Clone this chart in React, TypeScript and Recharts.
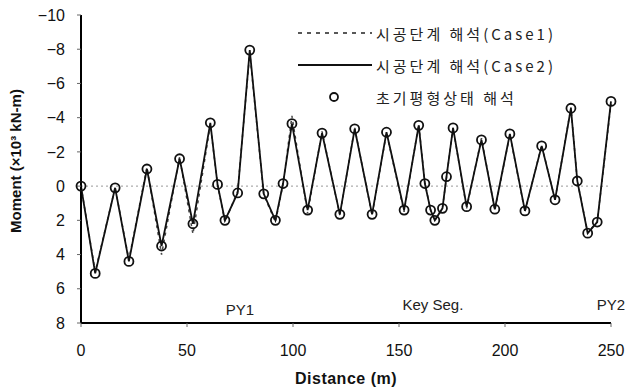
import { ComposedChart, Line, XAxis, YAxis, ReferenceLine } from 'recharts';

// positions of the section points along the bridge (m)
const distance = [
  0, 6.7, 16.1, 22.6, 31.1, 38.0, 46.5, 52.8, 61.0, 64.4, 67.9, 73.9, 79.6,
  86.2, 91.7, 95.3, 99.5, 106.9, 113.7, 122.1, 129.1, 137.3, 144.1, 152.4,
  159.3, 162.2, 164.9, 166.9, 170.5, 172.4, 175.5, 181.9, 188.9, 195.2, 202.3,
  209.4, 217.3, 223.6, 231.1, 234.1, 239.0, 243.5, 250,
];

// 초기평형상태 해석 (x10^3 kN-m)
const initialMoment = [
  0, 5.1, 0.1, 4.4, -1.0, 3.5, -1.6, 2.2, -3.7, -0.1, 2.0, 0.4, -7.95,
  0.45, 2.0, -0.15, -3.65, 1.4, -3.1, 1.65, -3.35, 1.65, -3.15, 1.4,
  -3.55, -0.15, 1.4, 2.0, 1.3, -0.55, -3.4, 1.2, -2.7, 1.35, -3.05,
  1.45, -2.35, 0.8, -4.55, -0.3, 2.75, 2.1, -4.95,
];

// 시공단계 해석 (Case1)
const case1Moment = [
  0, 5.0, 0.1, 4.3, -1.1, 4.0, -1.7, 2.8, -3.6, -0.1, 2.1, 0.3, -7.8,
  0.5, 2.1, -0.1, -4.1, 1.6, -3.2, 1.7, -3.4, 1.7, -3.1, 1.5,
  -3.6, -0.2, 1.4, 2.0, 1.3, -0.5, -3.4, 1.3, -2.8, 1.4, -3.0,
  1.5, -2.4, 0.8, -4.6, -0.3, 2.7, 2.1, -4.8,
];

// 시공단계 해석 (Case2)
const case2Moment = [
  0, 5.1, 0.1, 4.4, -1.0, 3.5, -1.6, 2.2, -3.7, -0.1, 2.0, 0.4, -7.95,
  0.45, 2.0, -0.15, -3.65, 1.4, -3.1, 1.65, -3.35, 1.65, -3.15, 1.4,
  -3.55, -0.15, 1.4, 2.0, 1.3, -0.55, -3.4, 1.2, -2.7, 1.35, -3.05,
  1.45, -2.35, 0.8, -4.55, -0.3, 2.75, 2.1, -4.95,
];

const xTicks = [0, 50, 100, 150, 200, 250];
const yTicks = [-10, -8, -6, -4, -2, 0, 2, 4, 6, 8];

const sectionMarks = [
  { x: 75, name: 'PY1', lift: 8 },
  { x: 166, name: 'Key Seg.', lift: 13 },
  { x: 250, name: 'PY2', lift: 13 },
];

const legendItems = [
  { label: '시공단계 해석(Case1)', kind: 'dash' },
  { label: '시공단계 해석(Case2)', kind: 'solid' },
  { label: '초기평형상태 해석', kind: 'dot' },
];

const data = distance.map((x, i) => ({
  x,
  c1: case1Moment[i],
  c2: case2Moment[i],
  init: initialMoment[i],
}));

const tickFont = { fontFamily: 'Liberation Sans, Arial, sans-serif', fontSize: 16, fill: '#111' };
const korFont = "'Noto Sans CJK KR', sans-serif";

function LegendBox() {
  return (
    <div style={{ position: 'absolute', left: 296, top: 17 }}>
      {legendItems.map((r) => (
        <div key={r.label} style={{ display: 'flex', alignItems: 'center', height: 32 }}>
          <svg width={80} height={12} style={{ display: 'block' }}>
            {r.kind === 'dash' && (
              <line x1={2} y1={6} x2={76} y2={6} stroke="#222" strokeWidth={1.6} strokeDasharray="4 5" />
            )}
            {r.kind === 'solid' && <line x1={2} y1={6} x2={76} y2={6} stroke="#111" strokeWidth={2} />}
            {r.kind === 'dot' && <circle cx={38} cy={6} r={4} fill="none" stroke="#111" strokeWidth={1.8} />}
          </svg>
          <span style={{ fontFamily: korFont, fontSize: 15, letterSpacing: 3, color: '#222', whiteSpace: 'nowrap' }}>
            {r.label}
          </span>
        </div>
      ))}
    </div>
  );
}

function markLabel(text: string, lift: number, masked: boolean) {
  return (props: any) => {
    const vb = props.viewBox;
    const cx = vb.x;
    const by = vb.y + vb.height - lift;
    return (
      <g>
        {masked && <rect x={cx - 15} y={by - 14} width={30} height={17} fill="#fff" />}
        <text
          x={cx}
          y={by}
          textAnchor="middle"
          style={{ fontFamily: tickFont.fontFamily, fontSize: 15, fill: '#222' }}
        >
          {text}
        </text>
      </g>
    );
  };
}

function YTitle(props: any) {
  const vb = props.viewBox;
  const cx = vb.x + 15;
  const cy = vb.y + vb.height / 2 - 8;
  return (
    <text
      x={cx}
      y={cy}
      transform={`rotate(-90 ${cx} ${cy})`}
      textAnchor="middle"
      dominantBaseline="central"
      style={{ fontFamily: tickFont.fontFamily, fontSize: 15, fontWeight: 'bold', fill: '#111' }}
    >
      Moment (×10³ kN-m)
    </text>
  );
}

export default function App() {
  return (
    <div style={{ position: 'absolute', left: 0, top: 0, width: 628, height: 391, background: '#fff' }}>
      <ComposedChart width={628} height={391} data={data} margin={{ top: 15, right: 17, left: 0, bottom: 0 }}>
        <XAxis
          xAxisId="top"
          orientation="top"
          type="number"
          dataKey="x"
          domain={[0, 250]}
          height={0}
          tick={false}
          tickLine={false}
          axisLine={{ stroke: '#000', strokeWidth: 2 }}
        />
        <XAxis
          type="number"
          dataKey="x"
          domain={[0, 250]}
          ticks={xTicks}
          height={68}
          tickSize={4}
          tickMargin={18}
          tick={tickFont}
          tickLine={{ stroke: '#666' }}
          axisLine={{ stroke: '#000', strokeWidth: 2 }}
          label={{
            value: 'Distance (m)',
            position: 'insideBottom',
            offset: 7,
            style: { fontFamily: tickFont.fontFamily, fontSize: 16, fontWeight: 'bold', fill: '#111', letterSpacing: 0.5 },
          }}
        />
        <YAxis
          reversed
          type="number"
          domain={[-10, 8]}
          ticks={yTicks}
          width={81}
          tickSize={4}
          tickMargin={12}
          tick={tickFont}
          tickLine={{ stroke: '#666' }}
          tickFormatter={(v: number) => String(v).replace('-', '\u2212')}
          axisLine={{ stroke: '#000', strokeWidth: 2 }}
          label={<YTitle />}
        />
        <YAxis
          yAxisId="right"
          orientation="right"
          reversed
          type="number"
          domain={[-10, 8]}
          width={0}
          tick={false}
          tickLine={false}
          axisLine={{ stroke: '#000', strokeWidth: 2 }}
        />
        <ReferenceLine y={0} stroke="#999" strokeDasharray="2 3" />
        <Line
          dataKey="c1"
          stroke="#444"
          strokeWidth={1.5}
          strokeDasharray="3 4"
          dot={false}
          isAnimationActive={false}
        />
        <Line dataKey="c2" stroke="#111" strokeWidth={1.8} dot={false} isAnimationActive={false} />
        <Line
          dataKey="init"
          stroke="none"
          dot={{ r: 4.5, fill: 'none', stroke: '#111', strokeWidth: 1.8 }}
          isAnimationActive={false}
        />
        {sectionMarks.map((m) => (
          <ReferenceLine
            key={m.name}
            x={m.x}
            stroke="none"
            label={markLabel(m.name, m.lift, m.x === 250)}
          />
        ))}
      </ComposedChart>
      <LegendBox />
    </div>
  );
}
